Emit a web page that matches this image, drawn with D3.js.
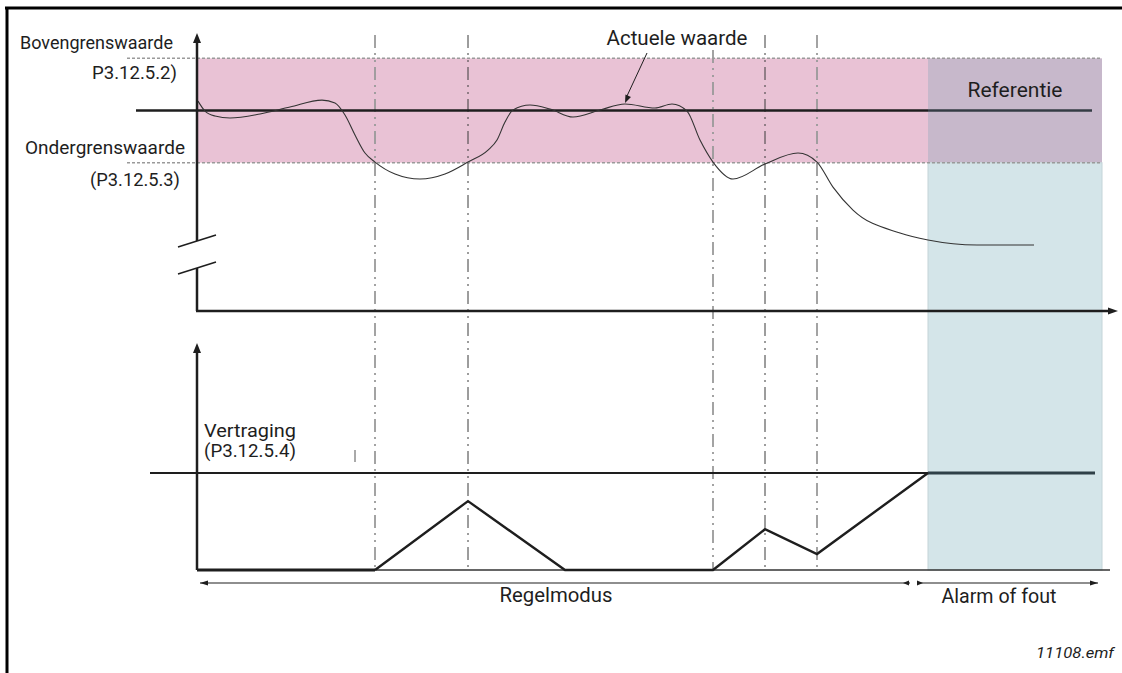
<!DOCTYPE html>
<html>
<head>
<meta charset="utf-8">
<script src="https://cdn.jsdelivr.net/npm/d3@7"></script>
<style>
  html, body { margin: 0; padding: 0; background: #fff; }
  svg { display: block; }
  text { font-family: Roboto, "DejaVu Sans", sans-serif; fill: #1e1e1e; }
</style>
</head>
<body>
<svg id="chart" width="1122" height="673"></svg>
<script>
// ---------- data ----------
const upperLimit = 60;       // Bovengrenswaarde (P3.12.5.2)
const lowerLimit = 40;       // Ondergrenswaarde (P3.12.5.3)
const reference = 50;        // Referentie
const delayLimit = 1;        // Vertraging (P3.12.5.4)
const alarmStart = 73.1;
const alarmEnd = 90.5;

// times at which the actual value crosses the lower limit
const crossTimes = [17.8, 27.1, 51.6, 56.8, 62.0];
const crossKinds = ["down", "up", "down", "up", "down"];

// actual value (Actuele waarde)
const actualT = [0.1, 0.8, 1.8, 3.3, 6.3, 9.3, 12.5, 13.8, 14.8, 15.8, 16.8, 17.8, 19.8, 22.3, 24.8, 27.1,
  29.1, 30.0, 30.8, 31.6, 33.3, 35.3, 37.6, 40.3, 42.8, 45.8, 47.5, 49.0, 50.3, 51.6, 53.6, 56.8, 60.1,
  62.0, 63.6, 65.6, 70.3, 73.1, 78.0, 83.7];
const actualV = [51.8, 49.9, 48.95, 48.56, 49.33, 50.67, 52.0, 51.44, 49.14, 45.31, 41.86, 40.13, 37.84, 36.88, 37.84, 40.13,
  42.43, 44.35, 47.8, 50.1, 51.05, 50.29, 48.75, 50.1, 51.25, 50.48, 51.25, 49.9, 44.35, 40.13, 36.88, 39.75, 41.86,
  40.13, 35.34, 30.94, 26.53, 25.19, 24.23, 24.23];

// delay counter
const delayT = [0, 17.8, 27.1, 36.8, 51.6, 56.8, 62.0, 73.1];
const delayV = [0, 0, 0.71, 0, 0, 0.42, 0.165, 1];

// labels
const limitLabels = ["Bovengrenswaarde", "P3.12.5.2)", "Ondergrenswaarde", "(P3.12.5.3)"];
const delayLabels = ["Vertraging", "(P3.12.5.4)"];
const modeLabels = ["Regelmodus", "Alarm of fout"];
const refLabel = "Referentie";
const actualLabel = "Actuele waarde";
const fileLabel = "11108.emf";

// ---------- scales ----------
const svg = d3.select("#chart");
const x = d3.scaleLinear().domain([0, 92.1]).range([197, 1118]);
const yTop = d3.scaleLinear().domain([11.6, 64.85]).range([311, 33]);
const yBot = d3.scaleLinear().domain([0, 2.34]).range([570, 343]);

const ink = "#1e1e1e";
const x0 = x(0);

// ---------- frame ----------
svg.append("line").attr("x1", 5).attr("x2", 1122).attr("y1", 8).attr("y2", 8)
  .attr("stroke", "#000").attr("stroke-width", 3);
svg.append("line").attr("x1", 7).attr("x2", 7).attr("y1", 7).attr("y2", 673)
  .attr("stroke", "#000").attr("stroke-width", 3);

// ---------- shaded regions ----------
svg.append("rect").attr("x", x0).attr("y", yTop(upperLimit))
  .attr("width", x(alarmStart) - x0).attr("height", yTop(lowerLimit) - yTop(upperLimit))
  .attr("fill", "#e9c2d5");
svg.append("rect").attr("x", x(alarmStart)).attr("y", yTop(upperLimit))
  .attr("width", x(alarmEnd) - x(alarmStart)).attr("height", yTop(lowerLimit) - yTop(upperLimit))
  .attr("fill", "#c7b8cb");
svg.append("rect").attr("x", x(alarmStart)).attr("y", yTop(lowerLimit))
  .attr("width", x(alarmEnd) - x(alarmStart)).attr("height", yBot(0) - yTop(lowerLimit))
  .attr("fill", "#d4e5e9").attr("stroke", "#c4d4d8").attr("stroke-width", 1);

// limit dotted lines
[upperLimit, lowerLimit].forEach(v => {
  svg.append("line").attr("x1", x0 - 70).attr("x2", x(alarmEnd))
    .attr("y1", yTop(v)).attr("y2", yTop(v))
    .attr("stroke", "#9a9a9a").attr("stroke-width", 1.6).attr("stroke-dasharray", "3,2");
});

// ---------- vertical dash-dot lines ----------
crossTimes.forEach((t, i) => {
  const down = crossKinds[i] === "down";
  svg.append("line").attr("x1", x(t)).attr("x2", x(t))
    .attr("y1", i === 2 ? 50 : 35).attr("y2", yBot(0))
    .attr("stroke", down ? "#9a9a9a" : "#3a3a3a")
    .attr("stroke-width", down ? 1.8 : 1)
    .attr("stroke-dasharray", "13,5,2,5,2,5");
});

// ---------- reference line ----------
svg.append("line").attr("x1", x0 - 61).attr("x2", x(alarmStart))
  .attr("y1", yTop(reference)).attr("y2", yTop(reference))
  .attr("stroke", ink).attr("stroke-width", 2.5);
svg.append("line").attr("x1", x(alarmStart)).attr("x2", x(alarmEnd) - 10)
  .attr("y1", yTop(reference)).attr("y2", yTop(reference))
  .attr("stroke", "#343c44").attr("stroke-width", 2.5);

// ---------- actual value curve ----------
const actual = actualT.map((t, i) => [t, actualV[i]]);
svg.append("path").datum(actual)
  .attr("d", d3.line().x(d => x(d[0])).y(d => yTop(d[1])).curve(d3.curveMonotoneX))
  .attr("fill", "none").attr("stroke", "#333").attr("stroke-width", 1.1);

// ---------- upper axes ----------
const breakTop = 241, breakBot = 268;
svg.append("line").attr("x1", x0).attr("x2", x0).attr("y1", yTop.range()[1] + 6).attr("y2", breakTop)
  .attr("stroke", ink).attr("stroke-width", 2.5);
svg.append("line").attr("x1", x0).attr("x2", x0).attr("y1", breakBot).attr("y2", yTop.range()[0])
  .attr("stroke", ink).attr("stroke-width", 2.5);
svg.append("line").attr("x1", x0 - 1).attr("x2", x.range()[1] - 8).attr("y1", yTop.range()[0]).attr("y2", yTop.range()[0])
  .attr("stroke", ink).attr("stroke-width", 2.5);
// break marks
[breakTop, breakBot].forEach(b => {
  svg.append("line").attr("x1", x0 - 19).attr("y1", b + 6).attr("x2", x0 + 19).attr("y2", b - 6)
    .attr("stroke", ink).attr("stroke-width", 1.5);
});
// arrowheads
function arrowUp(cx, tip) {
  svg.append("path").attr("d", `M${cx},${tip} L${cx - 4},${tip + 10} L${cx + 4},${tip + 10} Z`).attr("fill", ink);
}
function arrowRight(tipX, cy, len = 10, half = 3.5) {
  svg.append("path").attr("d", `M${tipX},${cy} L${tipX - len},${cy - half} L${tipX - len},${cy + half} Z`).attr("fill", ink);
}
function arrowLeft(tipX, cy, len = 10, half = 3.5) {
  svg.append("path").attr("d", `M${tipX},${cy} L${tipX + len},${cy - half} L${tipX + len},${cy + half} Z`).attr("fill", ink);
}
arrowUp(x0, yTop.range()[1]);
arrowRight(x.range()[1], yTop.range()[0]);

// ---------- lower panel ----------
svg.append("line").attr("x1", x0).attr("x2", x0).attr("y1", yBot.range()[1] + 6).attr("y2", yBot(0))
  .attr("stroke", ink).attr("stroke-width", 2.5);
arrowUp(x0, yBot.range()[1]);
// baseline
svg.append("line").attr("x1", x0).attr("x2", x(alarmEnd) + 8).attr("y1", yBot(0)).attr("y2", yBot(0))
  .attr("stroke", "#333").attr("stroke-width", 1.5);
// delay threshold
svg.append("line").attr("x1", x0 - 47).attr("x2", x(alarmStart)).attr("y1", yBot(delayLimit)).attr("y2", yBot(delayLimit))
  .attr("stroke", ink).attr("stroke-width", 2.2);
svg.append("line").attr("x1", x(alarmStart)).attr("x2", x(alarmEnd) - 7).attr("y1", yBot(delayLimit)).attr("y2", yBot(delayLimit))
  .attr("stroke", "#2f4048").attr("stroke-width", 3.2);
// small artifact tick
svg.append("line").attr("x1", x0 + 158).attr("x2", x0 + 158).attr("y1", 450).attr("y2", 462)
  .attr("stroke", "#555").attr("stroke-width", 1);
// delay counter
const delay = delayT.map((t, i) => [t, delayV[i]]);
svg.append("path").datum(delay.slice(0, 2))
  .attr("d", d3.line().x(d => x(d[0])).y(d => yBot(d[1])))
  .attr("fill", "none").attr("stroke", ink).attr("stroke-width", 3.2);
svg.append("path").datum(delay.slice(1))
  .attr("d", d3.line().x(d => x(d[0])).y(d => yBot(d[1])))
  .attr("fill", "none").attr("stroke", ink).attr("stroke-width", 2.4).attr("stroke-linejoin", "miter");

// mode arrows
const modeY = 583;
svg.append("line").attr("x1", x0 + 3).attr("x2", x(alarmStart) - 18).attr("y1", modeY).attr("y2", modeY)
  .attr("stroke", ink).attr("stroke-width", 1.2);
svg.append("line").attr("x1", x(alarmStart) - 10).attr("x2", x(alarmEnd) - 4).attr("y1", modeY).attr("y2", modeY)
  .attr("stroke", ink).attr("stroke-width", 1.2);
arrowLeft(x0 + 3, modeY, 8, 2.5);
arrowLeft(x(alarmStart) - 25, modeY, 6, 2.5);
arrowRight(x(alarmStart) - 5, modeY, 6, 2.5);
arrowRight(x(alarmEnd) - 4, modeY, 8, 2.5);

// ---------- texts ----------
function label(txt, px, py, size, anchor, len, extra = {}) {
  const t = svg.append("text").attr("x", px).attr("y", py).attr("font-size", size)
    .attr("text-anchor", anchor).text(txt);
  if (len) t.attr("textLength", len).attr("lengthAdjust", "spacingAndGlyphs");
  Object.entries(extra).forEach(([k, v]) => t.attr(k, v));
  return t;
}
label(limitLabels[0], 20, 49, 17.5, "start", 153);
label(limitLabels[1], 177, 79, 17.5, "end", 85);
label(limitLabels[2], 25, 154, 17.5, "start", 160);
label(limitLabels[3], 180, 186, 17.5, "end", 90);
label(refLabel, (x(alarmStart) + x(alarmEnd)) / 2, 97, 20, "middle", 95);
label(actualLabel, 677, 45, 20, "middle", 141);
label(delayLabels[0], 204, 437, 18.5, "start", 92);
label(delayLabels[1], 204, 457, 18.5, "start", 92);
label(modeLabels[0], 556, 602, 20, "middle", 113);
label(modeLabels[1], 999, 603, 20, "middle", 115);
label(fileLabel, 1114, 658, 14, "end", 78, { "font-style": "italic" });

// annotation arrow for actual value
svg.append("line").attr("x1", 647).attr("y1", 53).attr("x2", x(42.8) + 2).attr("y2", yTop(51.25) - 8)
  .attr("stroke", ink).attr("stroke-width", 1);
(function () {
  const tx = x(42.8), ty = yTop(51.25) - 1;
  const ang = Math.atan2(53 - ty, 647 - tx);
  const l = 8, h = 3;
  const bx = tx + l * Math.cos(ang), by = ty + l * Math.sin(ang);
  const px = -Math.sin(ang) * h, py = Math.cos(ang) * h;
  svg.append("path").attr("d", `M${tx},${ty} L${bx + px},${by + py} L${bx - px},${by - py} Z`).attr("fill", ink);
})();
</script>
</body>
</html>
